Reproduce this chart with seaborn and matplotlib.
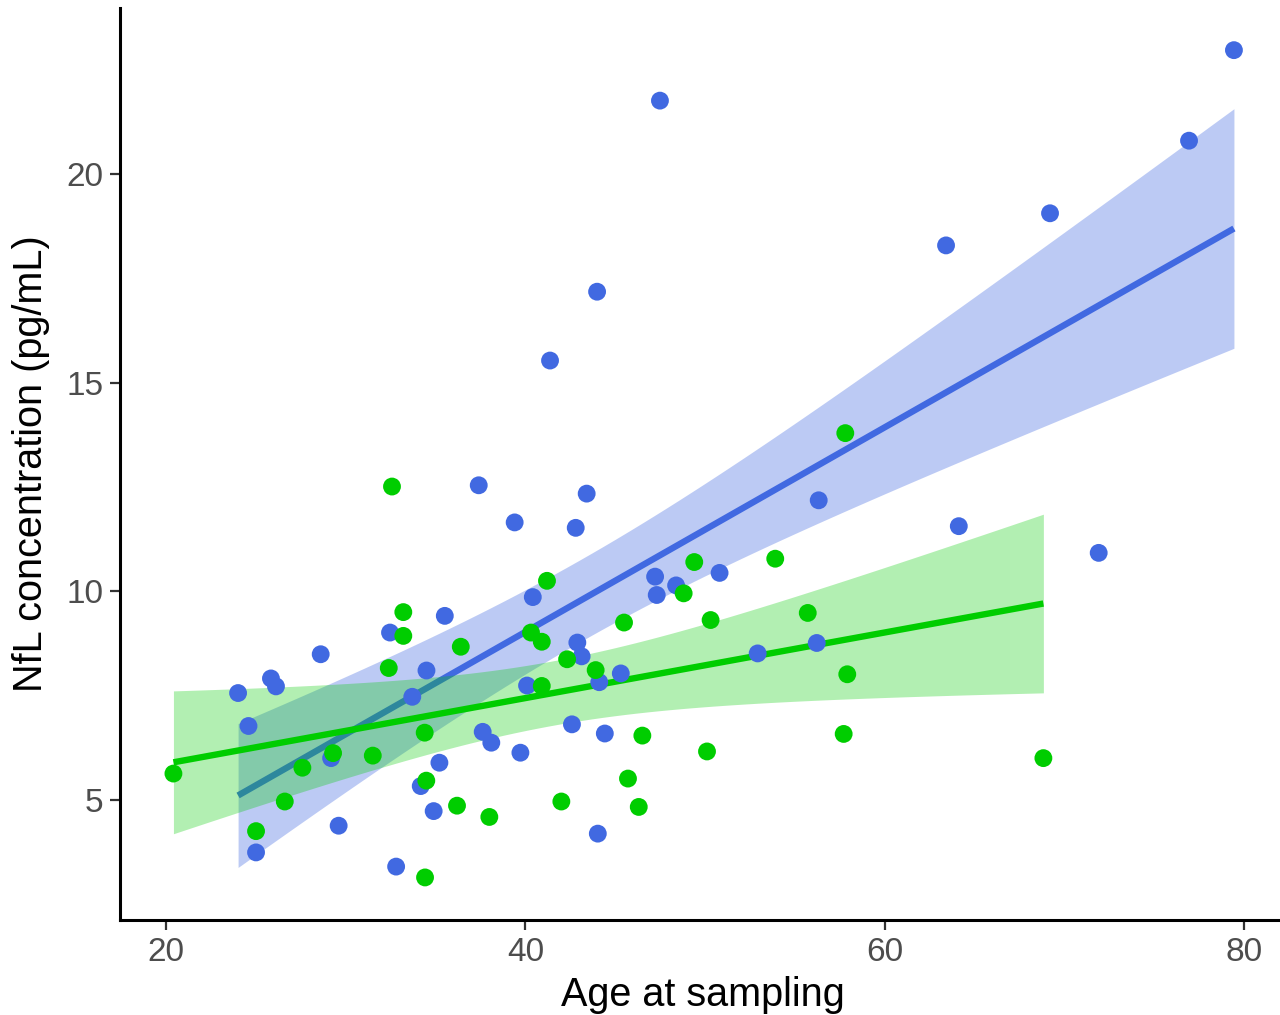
import numpy as np
import pandas as pd
import matplotlib
matplotlib.use("Agg")
import matplotlib.pyplot as plt
import seaborn as sns

# ---------------- data ----------------
blue_age = [24.00, 24.58, 25.00, 25.83, 26.11, 28.60, 29.18, 29.60, 32.46, 32.80,
            33.70, 34.49, 34.17, 34.89, 35.21, 35.51, 37.40, 37.62, 38.10, 39.40,
            39.72, 40.09, 40.41, 41.37, 42.59, 42.80, 42.89, 43.13, 43.41, 43.99,
            44.03, 44.11, 44.42, 45.31, 47.22, 47.31, 47.49, 48.39, 50.81, 52.93,
            56.22, 56.33, 63.42, 64.13, 69.21, 71.92, 76.95, 79.45]
blue_nfl = [7.56, 6.77, 3.74, 7.91, 7.72, 8.49, 6.00, 4.38, 9.01, 3.40,
            7.47, 8.10, 5.33, 4.73, 5.89, 9.41, 12.54, 6.63, 6.37, 11.65,
            6.13, 7.74, 9.86, 15.53, 6.81, 11.52, 8.77, 8.44, 12.34, 17.18,
            4.19, 7.82, 6.59, 8.03, 10.35, 9.91, 21.76, 10.14, 10.44, 8.51,
            8.76, 12.18, 18.29, 11.56, 19.06, 10.92, 20.80, 22.97]

green_age = [20.40, 25.00, 26.60, 27.58, 29.29, 31.50, 32.39, 32.57, 33.20, 33.20,
             34.39, 34.48, 34.41, 36.19, 36.40, 37.99, 40.31, 40.91, 40.91, 41.20,
             42.00, 42.32, 43.91, 45.49, 45.71, 46.31, 46.51, 48.81, 49.40, 50.11,
             50.31, 53.91, 55.72, 57.81, 57.72, 57.92, 68.84]
green_nfl = [5.63, 4.25, 4.96, 5.77, 6.12, 6.06, 8.16, 12.51, 9.50, 8.93,
             6.61, 5.46, 3.14, 4.86, 8.67, 4.59, 9.01, 8.79, 7.73, 10.25,
             4.96, 8.37, 8.11, 9.25, 5.51, 4.83, 6.54, 9.95, 10.70, 6.16,
             9.31, 10.78, 9.48, 13.79, 6.58, 8.01, 6.00]

x_ticks = [20, 40, 60, 80]
y_ticks = [5, 10, 15, 20]
x_title = "Age at sampling"
y_title = "NfL concentration (pg/mL)"

BLUE = "#4169E1"
GREEN = "#00CD00"

df = pd.concat([
    pd.DataFrame({"age": blue_age, "nfl": blue_nfl, "grp": "blue"}),
    pd.DataFrame({"age": green_age, "nfl": green_nfl, "grp": "green"}),
], ignore_index=True)


def t975(dfree):
    z = 1.959963985
    return (z + (z**3 + z) / (4 * dfree)
            + (5 * z**5 + 16 * z**3 + 3 * z) / (96 * dfree**2)
            + (3 * z**7 + 19 * z**5 + 17 * z**3 - 15 * z) / (384 * dfree**3))


def lm_fit(x, y, n=80):
    x = np.asarray(x, float)
    y = np.asarray(y, float)
    nobs = len(x)
    b1, b0 = np.polyfit(x, y, 1)
    resid = y - (b0 + b1 * x)
    s = np.sqrt(np.sum(resid**2) / (nobs - 2))
    xm = x.mean()
    sxx = np.sum((x - xm) ** 2)
    grid = np.linspace(x.min(), x.max(), n)
    fit = b0 + b1 * grid
    se = s * np.sqrt(1.0 / nobs + (grid - xm) ** 2 / sxx)
    t = t975(nobs - 2)
    return grid, fit, fit - t * se, fit + t * se


# ---------------- figure ----------------
sns.set_theme(style="white")
plt.rcParams["font.family"] = ["Liberation Sans", "DejaVu Sans"]

fig = plt.figure(figsize=(12.8, 10.15), dpi=100)
ax = fig.add_axes([0.0941, 0.0936, 0.9106, 0.8985])

z = 2.0
for grp, col, alpha in [("blue", BLUE, 0.35), ("green", GREEN, 0.30)]:
    sub = df[df.grp == grp]
    g, f, lo, hi = lm_fit(sub.age, sub.nfl)
    ax.fill_between(g, lo, hi, color=col, alpha=alpha, linewidth=0, zorder=z)
    sns.lineplot(x=g, y=f, ax=ax, color=col, linewidth=4.6, zorder=z + 0.1,
                 solid_capstyle="butt")
    z += 0.2

sns.scatterplot(data=df, x="age", y="nfl", hue="grp",
                palette={"blue": BLUE, "green": GREEN},
                s=165, linewidth=0, legend=False, ax=ax, zorder=3)

ax.set_xlim(17.45, 82.35)
ax.set_ylim(2.12, 23.98)
ax.set_xticks(x_ticks)
ax.set_yticks(y_ticks)
ax.set_xticklabels([str(v) for v in x_ticks])
ax.set_yticklabels([str(v) for v in y_ticks])

ax.set_xlabel(x_title, fontsize=28.5, color="black", labelpad=6)
ax.set_ylabel(y_title, fontsize=28.5, color="black", labelpad=12)

ax.tick_params(axis="both", which="major", labelsize=24, labelcolor="#4D4D4D",
               color="#333333", length=7, width=1.6, direction="out", pad=5,
               left=True, bottom=True)

for side in ["top", "right"]:
    ax.spines[side].set_visible(False)
for side in ["left", "bottom"]:
    ax.spines[side].set_color("black")
    ax.spines[side].set_linewidth(2.2)

ax.grid(False)
ax.set_facecolor("white")
fig.patch.set_facecolor("white")

fig.savefig("out.png", dpi=100)
